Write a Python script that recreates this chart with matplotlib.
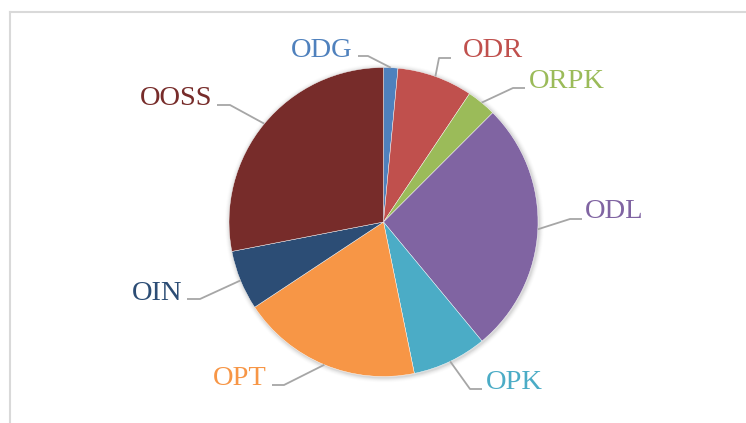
import numpy as np
import matplotlib
matplotlib.use("Agg")
import matplotlib.pyplot as plt
from matplotlib.lines import Line2D

# ---- data (share of each category, clockwise from 12 o'clock) ----
labels = ["ODG", "ODR", "ORPK", "ODL", "OPK", "OPT", "OIN", "OOSS"]
values = [1.5, 7.9, 3.1, 26.5, 7.8, 18.9, 6.25, 28.05]
colors = ["#4F81BD", "#C0504D", "#9BBB59", "#8064A2",
          "#4BACC6", "#F79646", "#2C4D75", "#772C2A"]

# ---- layout (pixel coords, y measured from top) ----
W, H = 746, 423
cx, cy, R = 383.5, 222, 154.5
# text anchor (x, baseline y), horizontal alignment, leader elbow points
label_pos = {
    "ODG":  ((353, 57),  "right", [(368, 56), (358, 56)]),
    "ODR":  ((463, 57),  "left",  [(439, 58), (451, 58)]),
    "ORPK": ((529, 88),  "left",  [(513, 88), (525, 88)]),
    "ODL":  ((585, 218), "left",  [(570, 219), (582, 219)]),
    "OPK":  ((486, 389), "left",  [(470, 389), (482, 389)]),
    "OPT":  ((267, 385), "right", [(284, 385), (272, 385)]),
    "OIN":  ((182, 300), "right", [(200, 299), (187, 299)]),
    "OOSS": ((212, 105), "right", [(230, 105), (217, 105)]),
}

plt.rcParams['font.family'] = ['Liberation Serif', 'DejaVu Serif']

fig = plt.figure(figsize=(W / 100, H / 100), dpi=100)
ax = fig.add_axes([0, 0, 1, 1])


def up(y):
    return H - y


# soft shadow round the pie
for i, a in enumerate([0.05, 0.04, 0.03, 0.02, 0.01]):
    ax.add_patch(plt.Circle((cx + 1, up(cy) - 1), R + 1 + i, color="black",
                            alpha=a, lw=0, zorder=1))

wedges, _ = ax.pie(values, colors=colors, startangle=90, counterclock=False,
                   center=(cx, up(cy)), radius=R, frame=True,
                   wedgeprops=dict(linewidth=0.3, edgecolor="white", zorder=2))
for w in wedges:
    w.set_zorder(2)

# labels with leader lines from the wedge middle on the rim
start = 0.0
total = sum(values)
for lab, val, col in zip(labels, values, colors):
    mid = np.deg2rad(90 - (start + val / 2) / total * 360)
    start += val
    ex, ey = cx + R * np.cos(mid), up(cy) + R * np.sin(mid)
    (tx, ty), ha, elbows = label_pos[lab]
    xs = [ex] + [p[0] for p in elbows]
    ys = [ey] + [up(p[1]) for p in elbows]
    ax.plot(xs, ys, color="#a6a6a6", lw=1.3, zorder=3, solid_capstyle="butt")
    ax.text(tx, up(ty), lab, color=col, fontsize=20.5, ha=ha, va="baseline",
            zorder=4)

ax.set_xlim(0, W)
ax.set_ylim(0, H)
ax.set_aspect("equal")
ax.axis("off")

# chart frame (left and top edges visible)
fig.add_artist(Line2D([10 / W, 10 / W], [0, 1 - 12.5 / H], color="#d9d9d9", lw=1.5))
fig.add_artist(Line2D([10 / W, 1], [1 - 12.5 / H, 1 - 12.5 / H], color="#d9d9d9", lw=1.5))

fig.savefig("out.png", dpi=100, facecolor="white")
